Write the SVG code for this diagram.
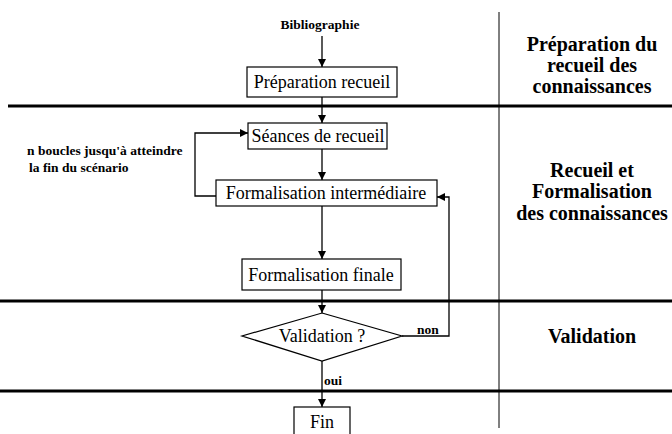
<svg xmlns="http://www.w3.org/2000/svg" width="672" height="434" viewBox="0 0 672 434">
<style>
.box{fill:#fff;stroke:#000;stroke-width:1.2}
.lbl{font-family:"Liberation Serif","Times New Roman",serif;font-size:18px;text-anchor:middle;fill:#000}
.sm{font-family:"Liberation Serif","Times New Roman",serif;font-size:13.5px;font-weight:bold;fill:#000}
.phase{font-family:"Liberation Serif","Times New Roman",serif;font-size:20px;font-weight:bold;text-anchor:middle;fill:#000}
.c{fill:none;stroke:#000;stroke-width:1.3}
.sep{stroke:#000;stroke-width:3}
</style>
<defs>
<marker id="ah" viewBox="0 0 10 10" refX="10" refY="5" markerWidth="8" markerHeight="8" markerUnits="userSpaceOnUse" orient="auto">
<path d="M0,0 L10,5 L0,10 z" fill="#000"/>
</marker>
</defs>
<g id="separators">
<line class="sep" x1="8" y1="106" x2="672" y2="106"/>
<line class="sep" x1="0" y1="301" x2="672" y2="301"/>
<line class="sep" x1="0" y1="391" x2="672" y2="391"/>
<line x1="499" y1="12" x2="499" y2="428" stroke="#000" stroke-width="1"/>
</g>
<g id="connectors">
<line class="c" x1="322" y1="36" x2="322" y2="67" marker-end="url(#ah)"/>
<line class="c" x1="322" y1="97" x2="322" y2="123" marker-end="url(#ah)"/>
<line class="c" x1="322" y1="149" x2="322" y2="180" marker-end="url(#ah)"/>
<polyline class="c" points="216,196 195,196 195,133 248,133" marker-end="url(#ah)"/>
<line class="c" x1="322" y1="206" x2="322" y2="259" marker-end="url(#ah)"/>
<line class="c" x1="322" y1="290" x2="322" y2="313" marker-end="url(#ah)"/>
<polyline class="c" points="402,336 449,336 449,197 437,197" marker-end="url(#ah)"/>
<line class="c" x1="322" y1="361" x2="322" y2="407" marker-end="url(#ah)"/>
<text class="sm" x="417" y="334">non</text>
<text class="sm" x="324" y="385">oui</text>
</g>
<g id="bibliographie">
<text class="sm" x="320" y="29" text-anchor="middle">Bibliographie</text>
</g>
<g id="preparation">
<rect class="box" x="247" y="67" width="150" height="30"/>
<text class="lbl" x="322" y="88">Préparation recueil</text>
</g>
<g id="seances">
<rect class="box" x="248" y="123" width="139" height="26"/>
<text class="lbl" x="318" y="142">Séances de recueil</text>
</g>
<g id="boucles-note">
<text class="sm" x="27" y="155">n boucles jusqu'à atteindre</text>
<text class="sm" x="29" y="172">la fin du scénario</text>
</g>
<g id="formalisation-intermediaire">
<rect class="box" x="216" y="180" width="221" height="26"/>
<text class="lbl" x="326" y="199">Formalisation intermédiaire</text>
</g>
<g id="formalisation-finale">
<rect class="box" x="242" y="259" width="159" height="31"/>
<text class="lbl" x="321" y="281">Formalisation finale</text>
</g>
<g id="validation">
<polygon class="box" points="322,313 402,336 322,361 242,336"/>
<text class="lbl" x="322" y="342">Validation ?</text>
</g>
<g id="fin">
<rect class="box" x="294" y="407" width="56" height="30"/>
<text class="lbl" x="322" y="428">Fin</text>
</g>
<g id="phases">
<text class="phase" x="592" y="51">Préparation du</text>
<text class="phase" x="592" y="72">recueil des</text>
<text class="phase" x="592" y="93">connaissances</text>
<text class="phase" x="592" y="177">Recueil et</text>
<text class="phase" x="592" y="198">Formalisation</text>
<text class="phase" x="592" y="220">des connaissances</text>
<text class="phase" x="592" y="343">Validation</text>
</g>
</svg>
